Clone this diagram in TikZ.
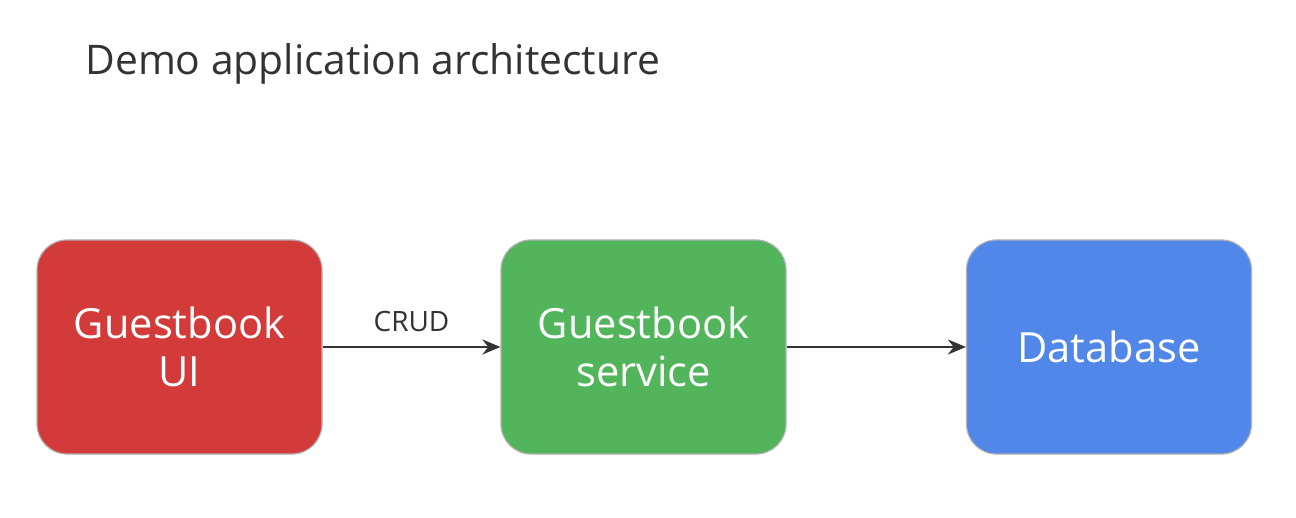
\documentclass[tikz,border=0pt]{standalone}
\usepackage{fontspec}
\setmainfont{Open Sans}
\usetikzlibrary{arrows.meta}
\definecolor{boxred}{HTML}{D33B3B}
\definecolor{boxgreen}{HTML}{52B55B}
\definecolor{boxblue}{HTML}{5087E9}
\definecolor{txtdark}{HTML}{333333}
\tikzset{
  px/.style={x=0.5pt,y=-0.5pt},
  block/.style={rounded corners=15pt, draw=black!30, line width=0.6pt,
    minimum width=142.5pt, minimum height=107pt, text=white, align=center,
    font=\fontsize{20.8pt}{24pt}\selectfont, inner sep=0pt},
  conn/.style={-{Stealth[length=9pt,width=7.5pt]}, line width=1.1pt, draw=txtdark}
}
\begin{document}
\begin{tikzpicture}[px]
\useasboundingbox (0,0) rectangle (1296,518);
\fill[white] (0,0) rectangle (1296,518);
\node[anchor=base west, text=txtdark, font=\fontsize{20.4pt}{25pt}\selectfont, inner sep=0pt] (title) at (85,75) {Demo application architecture};
\node[block, fill=boxred] (ui) at (179.5,347) {Guestbook\\UI};
\node[block, fill=boxgreen] (svc) at (643.5,347) {Guestbook\\service};
\node[block, fill=boxblue] (db) at (1109,347) {Database};
\draw[conn] (ui.east) -- (svc.west) node[midway, above=3.5pt, text=txtdark, font=\fontsize{14pt}{16pt}\selectfont] (crud) {CRUD};
\draw[conn] (svc.east) -- (db.west);
\end{tikzpicture}
\end{document}
